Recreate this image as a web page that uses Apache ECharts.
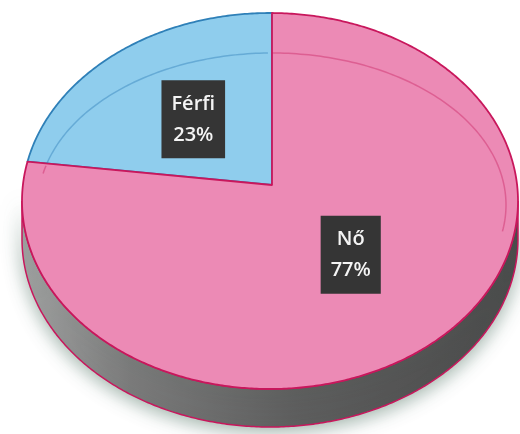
<!DOCTYPE html>
<html>
<head>
<meta charset="utf-8">
<script src="https://cdn.jsdelivr.net/npm/echarts@6/dist/echarts.min.js"></script>
<style>
  html, body { margin: 0; padding: 0; background: #fff; }
  #pieChart { width: 520px; height: 434px; }
</style>
</head>
<body>
<div id="pieChart"></div>
<script>
// data
var categories = ['Nő', 'Férfi'];
var values = [77, 23];

// styles
var faceColors = ['#EC8AB5', '#8FCDED'];
var edgeColors = ['#C8175C', '#2F80B8'];
var bevelColors = ['rgba(200,30,95,0.4)', 'rgba(40,120,180,0.4)'];

// tilted pie geometry
var cx = 270, cy = 201, rx = 248, ry = 188;   // top face ellipse
var vx = 272, vy = 185;                       // pie vertex
var depth = 38;
var inner = { cx: 272, cy: 205, rx: 234, ry: 152 };

var total = values.reduce(function (a, b) { return a + b; }, 0);
var TWO_PI = Math.PI * 2;

function ellipsePoint(psi) {
    return [cx + rx * Math.sin(psi), cy - ry * Math.cos(psi)];
}

// ray from the vertex in direction of the pie angle phi, hit the ellipse
function edgePsi(phi) {
    var du = Math.sin(phi), dw = -Math.cos(phi);
    var u = (vx - cx) / rx, w = (vy - cy) / ry;
    var a = du * du + dw * dw;
    var b = 2 * (u * du + w * dw);
    var c = u * u + w * w - 1;
    var t = (-b + Math.sqrt(b * b - 4 * a * c)) / (2 * a);
    var x = u + t * du, y = w + t * dw;
    var psi = Math.atan2(x, -y);
    if (psi < 0) psi += TWO_PI;
    return psi;
}

function arc(a, b, fn) {
    var pts = [];
    var n = Math.max(2, Math.ceil((b - a) / 0.01));
    for (var i = 0; i <= n; i++) {
        pts.push(fn(a + (b - a) * i / n));
    }
    return pts;
}

function truePhi(p) {
    var phi = Math.atan2((p[0] - vx) / rx, -(p[1] - vy) / ry);
    if (phi < 0) phi += TWO_PI;
    return phi;
}

function renderItem(params, api) {
    var idx = params.dataIndex;
    var before = 0;
    for (var i = 0; i < idx; i++) before += values[i];
    var v = api.value(0);
    var phi0 = before / total * TWO_PI;
    var phi1 = (before + v) / total * TWO_PI;

    var psi0 = edgePsi(phi0);
    var psi1 = edgePsi(phi1);
    while (psi1 <= psi0) psi1 += TWO_PI;

    var children = [];

    // side wall (front half of the ellipse only)
    [[Math.PI / 2, Math.PI * 1.5], [Math.PI / 2 + TWO_PI, Math.PI * 1.5 + TWO_PI]].forEach(function (r) {
        var s0 = Math.max(psi0, r[0]), s1 = Math.min(psi1, r[1]);
        if (s1 <= s0) return;
        var top = arc(s0, s1, ellipsePoint);
        var bottom = top.map(function (p) { return [p[0], p[1] + depth]; }).reverse();
        children.push({
            type: 'polygon',
            z2: 0,
            shape: { points: top.concat(bottom) },
            style: {
                fill: new echarts.graphic.LinearGradient(0, 0, 1, 0, [
                    { offset: 0, color: '#a3a3a3' },
                    { offset: 0.22, color: '#7b7b7b' },
                    { offset: 0.55, color: '#5e5e5e' },
                    { offset: 1, color: '#4a4a4a' }
                ]),
                stroke: edgeColors[0],
                lineWidth: 1.5,
                shadowBlur: 18,
                shadowColor: 'rgba(80,115,100,0.55)',
                shadowOffsetY: 4
            }
        });
    });

    // top face
    var facePts = [[vx, vy]].concat(arc(psi0, psi1, ellipsePoint));
    children.push({
        type: 'polygon',
        z2: idx === 0 ? 3 : 2,
        shape: { points: facePts },
        style: {
            fill: faceColors[idx],
            stroke: edgeColors[idx],
            lineWidth: 1.8,
            lineJoin: 'round'
        }
    });

    // bevel line on the upper part
    var segs = [], cur = [];
    for (var d = -78; d <= 100; d += 1) {
        var ps = d * Math.PI / 180;
        var p = [inner.cx + inner.rx * Math.sin(ps), inner.cy - inner.ry * Math.cos(ps)];
        var ph = truePhi(p);
        if (ph >= phi0 && ph <= phi1) {
            cur.push(p);
        } else if (cur.length) {
            segs.push(cur); cur = [];
        }
    }
    if (cur.length) segs.push(cur);
    segs.forEach(function (s) {
        if (s.length < 2) return;
        children.push({
            type: 'polyline',
            z2: 4,
            shape: { points: s },
            style: { stroke: bevelColors[idx], lineWidth: 1.5, fill: null }
        });
    });

    // label box
    var mid = (phi0 + phi1) / 2;
    var k = 0.48;
    var lx = vx + k * rx * Math.sin(mid);
    var ly = vy - k * ry * Math.cos(mid) + 2;
    children.push({
        type: 'text',
        z2: 10,
        x: lx,
        y: ly,
        style: {
            text: categories[idx] + '\n' + Math.round(v / total * 100) + '%',
            align: 'center',
            verticalAlign: 'middle',
            fill: '#f4f4f4',
            font: '600 20px "Open Sans", sans-serif',
            lineHeight: 31,
            backgroundColor: '#353535',
            padding: [8, 10, 8, 10],
            boxShadowBlur: 4,
            boxShadowColor: 'rgba(0,0,0,0.45)',
            boxShadowOffsetX: 2,
            boxShadowOffsetY: 2
        }
    });

    return { type: 'group', children: children };
}

var chart = echarts.init(document.getElementById('pieChart'));
var option = {
    animation: false,
    backgroundColor: '#ffffff',
    series: [{
        type: 'custom',
        coordinateSystem: 'none',
        renderItem: renderItem,
        data: values.map(function (v, i) { return { name: categories[i], value: v }; })
    }]
};
chart.setOption(option);
</script>
</body>
</html>
